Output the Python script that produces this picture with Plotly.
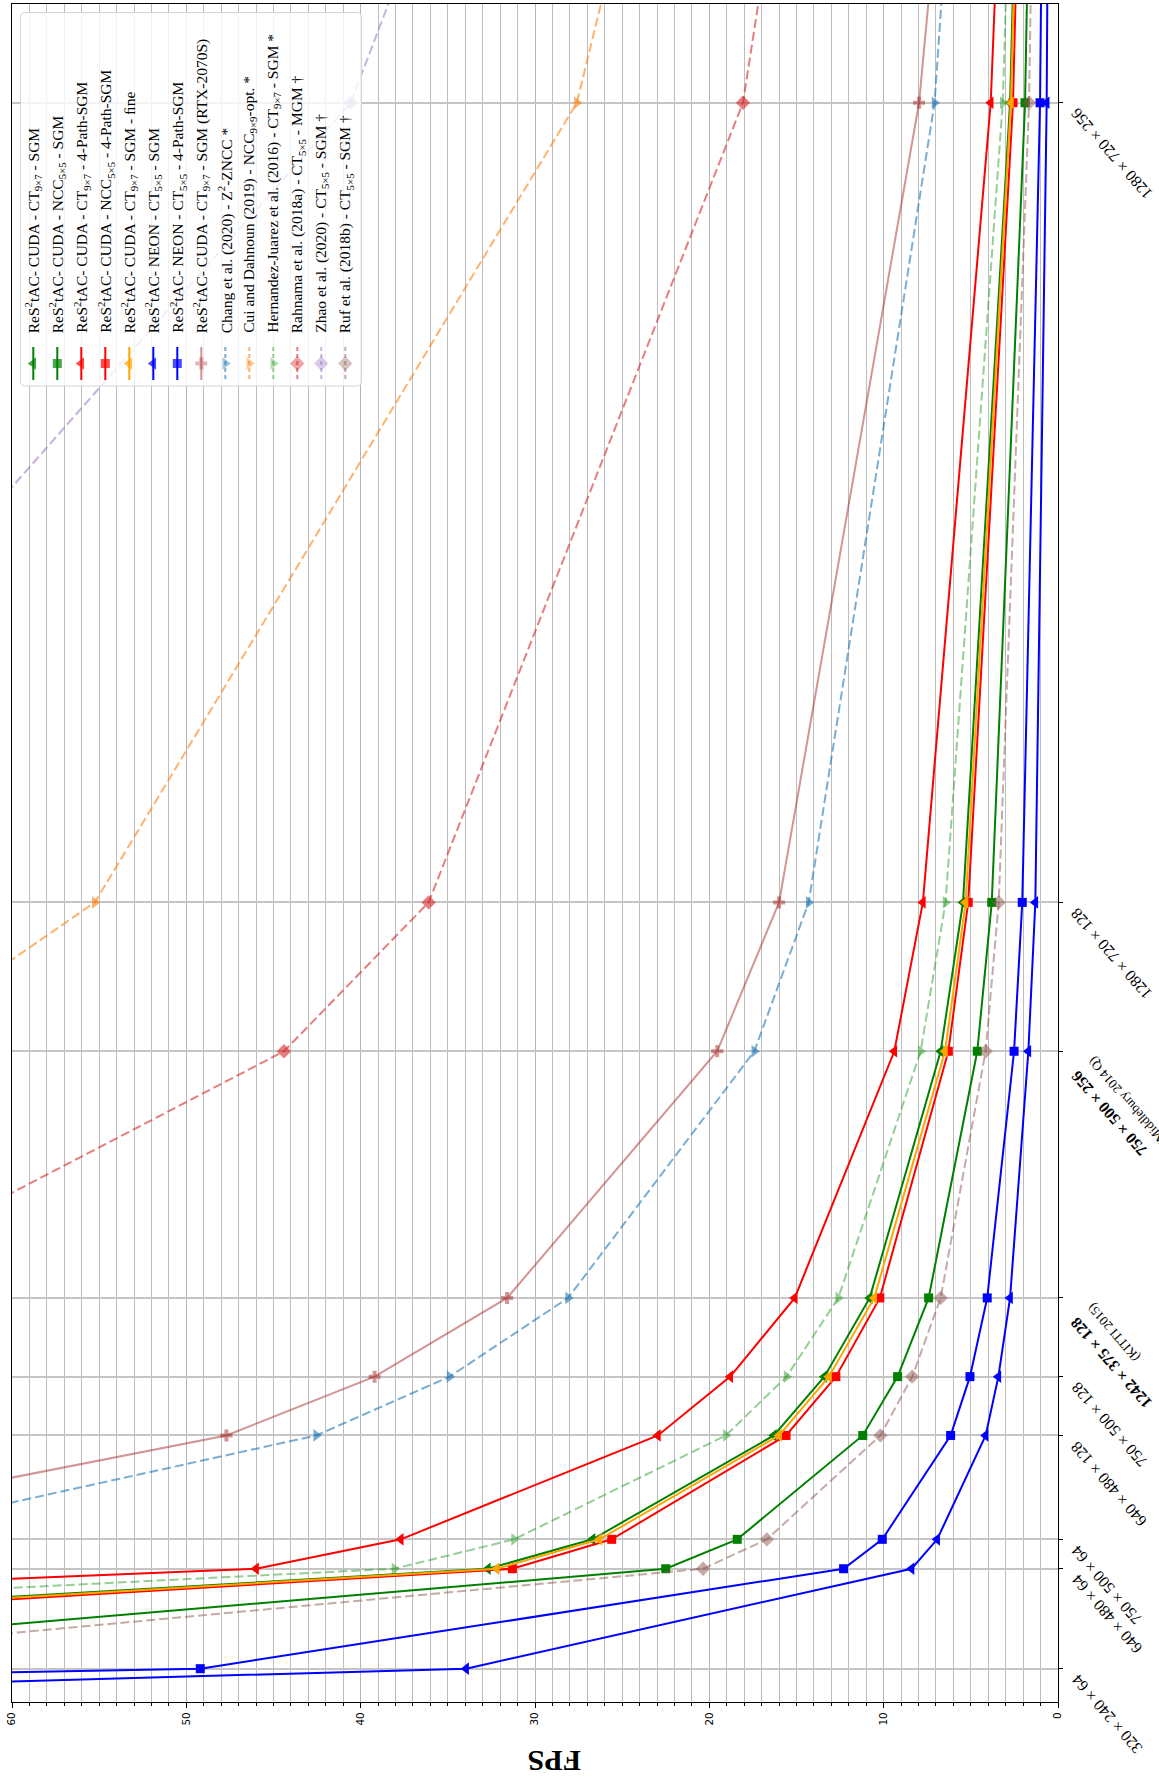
import numpy as np
import plotly.graph_objects as go

# ---------------------------------------------------------------------------
# Benchmark configurations: image width x height x disparity range
# (first and last entries lie just outside the plotted range)
RES_W = [320, 320, 640, 750, 640, 750, 1242, 750, 1280, 1280, 1920]
RES_H = [240, 240, 480, 500, 480, 500, 375, 500, 720, 720, 1080]
RES_D = [32, 64, 64, 64, 128, 128, 128, 256, 128, 256, 128]

# configurations that get a tick label
TICK_IDX = [1, 2, 3, 4, 5, 6, 7, 8, 9]
TICK_TEXT = [
    "320 × 240 × 64",
    "640 × 480 × 64",
    "750 × 500 × 64",
    "640 × 480 × 128",
    "750 × 500 × 128",
    "<b>1242 × 375 × 128</b><br><span style='font-size:13px'>(KITTI 2015)</span>",
    "<b>750 × 500 × 256</b><br><span style='font-size:13px'>(Middlebury 2014 Q)</span>",
    "1280 × 720 × 128",
    "1280 × 720 × 256",
]

N = None
# frames per second, one value per configuration in RES_*
FPS_CUDA_CT_SGM = [N, 130, 32.7, 26.7, 16.3, 13.4, 10.8, 6.73, 5.45, 2.75, 2.45]
FPS_CUDA_NCC_SGM = [N, 90, 22.5, 18.4, 11.2, 9.2, 7.42, 4.63, 3.8, 1.89, 1.68]
FPS_CUDA_CT_4P = [N, 184, 46.0, 37.7, 22.95, 18.8, 15.1, 9.39, 7.75, 3.86, 3.4]
FPS_CUDA_NCC_4P = [N, 125, 31.3, 25.6, 15.6, 12.74, 10.22, 6.29, 5.15, 2.58, 2.3]
FPS_CUDA_CT_FINE = [N, 128, 32.2, 26.3, 16.0, 13.14, 10.54, 6.48, 5.3, 2.7, 2.4]
FPS_NEON_CT_SGM = [68, 33.95, 8.4, 6.93, 4.15, 3.42, 2.75, 1.70, 1.3, 0.65, 0.58]
FPS_NEON_CT_4P = [100, 49.2, 12.3, 10.08, 6.16, 5.05, 4.06, 2.52, 2.05, 1.03, 0.92]
FPS_CUDA_RTX = [N, N, N, 78, 47.7, 39.2, 31.6, 19.55, 16.0, 7.97, 6.9]
FPS_CHANG = [N, N, N, 69.6, 42.55, 34.9, 28.1, 17.42, 14.3, 7.08, 6.3]
FPS_CUI = [N, N, N, N, N, N, N, 67.6, 55.25, 27.6, 24.8]
FPS_HERNANDEZ = [N, 153, 38.06, 31.2, 19.05, 15.57, 12.6, 7.88, 6.45, 3.17, 2.82]
FPS_RAHNAMA = [N, N, N, N, N, N, 71.6, 44.4, 36.1, 18.07, 16.3]
FPS_ZHAO = [N, N, N, N, N, N, N, N, 81, 40.57, 36.2]
FPS_RUF = [N, 82, 20.36, 16.7, 10.19, 8.36, 6.73, 4.15, 3.4, 1.66, 1.48]

LABELS = [
    "ReS<sup>2</sup>tAC- CUDA - CT<sub>9×7</sub> - SGM",
    "ReS<sup>2</sup>tAC- CUDA - NCC<sub>5×5</sub> - SGM",
    "ReS<sup>2</sup>tAC- CUDA - CT<sub>9×7</sub> - 4-Path-SGM",
    "ReS<sup>2</sup>tAC- CUDA - NCC<sub>5×5</sub> - 4-Path-SGM",
    "ReS<sup>2</sup>tAC- CUDA - CT<sub>9×7</sub> - SGM - ﬁne",
    "ReS<sup>2</sup>tAC- NEON - CT<sub>5×5</sub> - SGM",
    "ReS<sup>2</sup>tAC- NEON - CT<sub>5×5</sub> - 4-Path-SGM",
    "ReS<sup>2</sup>tAC- CUDA - CT<sub>9×7</sub> - SGM (RTX-2070S)",
    "Chang et al. (2020) - Z<sup>2</sup>-ZNCC *",
    "Cui and Dahnoun (2019) - NCC<sub>9×9</sub>-opt. *",
    "Hernandez-Juarez et al. (2016) - CT<sub>9×7</sub> - SGM *",
    "Rahnama et al. (2018a) - CT<sub>5×5</sub> - MGM †",
    "Zhao et al. (2020) - CT<sub>5×5</sub> - SGM †",
    "Ruf et al. (2018b) - CT<sub>5×5</sub> - SGM †",
]

SERIES = [FPS_CUDA_CT_SGM, FPS_CUDA_NCC_SGM, FPS_CUDA_CT_4P, FPS_CUDA_NCC_4P,
          FPS_CUDA_CT_FINE, FPS_NEON_CT_SGM, FPS_NEON_CT_4P, FPS_CUDA_RTX,
          FPS_CHANG, FPS_CUI, FPS_HERNANDEZ, FPS_RAHNAMA, FPS_ZHAO, FPS_RUF]

# (colour, dash, marker symbol, marker size)
STYLES = [
    ("rgb(0,128,0)", "solid", "triangle-left", 11),
    ("rgb(0,128,0)", "solid", "square", 9),
    ("rgb(255,0,0)", "solid", "triangle-left", 11),
    ("rgb(255,0,0)", "solid", "square", 9),
    ("rgb(255,165,0)", "solid", "triangle-left", 11),
    ("rgb(0,0,255)", "solid", "triangle-left", 11),
    ("rgb(0,0,255)", "solid", "square", 9),
    ("rgba(165,42,42,0.5)", "solid", "cross", 10),
    ("rgba(31,119,180,0.6)", "9px,4px", "triangle-right", 11),
    ("rgba(255,127,14,0.6)", "9px,4px", "triangle-right", 11),
    ("rgba(44,160,44,0.5)", "9px,4px", "triangle-right", 11),
    ("rgba(214,39,40,0.6)", "9px,4px", "diamond", 11),
    ("rgba(148,103,189,0.5)", "9px,4px", "diamond", 11),
    ("rgba(140,86,75,0.5)", "9px,4px", "diamond", 11),
]

# workload in million pixel-disparities
work = [w * h * d / 1e6 for w, h, d in zip(RES_W, RES_H, RES_D)]
tick_pos = [work[i] for i in TICK_IDX]

SERIF = "Liberation Serif, Times New Roman, serif"
W, H = 1159, 1782
ML, MR, MT, MB = 12, 101, 4, 80
PLOT_W = W - ML - MR
PLOT_H = H - MT - MB

fig = go.Figure()

for vals, (col, dash, sym, size) in zip(SERIES, STYLES):
    fig.add_trace(go.Scatter(
        x=vals, y=work, mode="lines+markers",
        line=dict(color=col, width=2, dash=dash),
        marker=dict(symbol=sym, size=size, color=col, line=dict(width=0)),
        connectgaps=False, showlegend=False, hoverinfo="skip",
    ))

# ---- hand-built vertical legend on a pixel-space overlay ----
box_x0, box_x1, box_y0, box_y1, rad = 20.5, 361.5, 12.5, 386.0, 4.0
corners = [(box_x1 - rad, box_y0 + rad, -90, 0), (box_x1 - rad, box_y1 - rad, 0, 90),
           (box_x0 + rad, box_y1 - rad, 90, 180), (box_x0 + rad, box_y0 + rad, 180, 270)]
bx, by = [], []
for cx, cy, a0, a1 in corners:
    t = np.radians(np.linspace(a0, a1, 6))
    bx += list(cx + rad * np.cos(t))
    by += list(cy + rad * np.sin(t))
bx.append(bx[0]); by.append(by[0])
fig.add_trace(go.Scatter(
    x=bx, y=by, xaxis="x2", yaxis="y2", mode="lines", fill="toself",
    fillcolor="rgba(255,255,255,0.8)", line=dict(color="#d4d4d4", width=1),
    showlegend=False, hoverinfo="skip",
))

col0, col_step = 33.3, 24.0
for k, (col, dash, sym, size) in enumerate(STYLES):
    cx = col0 + col_step * k
    fig.add_trace(go.Scatter(
        x=[cx, cx, cx], y=[347, 363.5, 380], xaxis="x2", yaxis="y2",
        mode="lines+markers",
        line=dict(color=col, width=2, dash="4px,3px" if dash != "solid" else "solid"),
        marker=dict(symbol=sym, size=[0, size, 0], color=col, line=dict(width=0)),
        showlegend=False, hoverinfo="skip",
    ))
    fig.add_annotation(
        x=cx, y=335, xref="x2", yref="y2", text=LABELS[k], showarrow=False,
        textangle=-90, xanchor="center", yanchor="bottom",
        font=dict(family=SERIF, size=15.5, color="black"),
    )

# ---- rotated configuration labels on the right-hand axis ----
for pos, txt in zip(tick_pos, TICK_TEXT):
    fig.add_annotation(
        x=1 + 7 / PLOT_W, y=pos, xref="paper", yref="y", text=txt,
        showarrow=False, textangle=-131, xanchor="left", yanchor="top",
        align="right", font=dict(family=SERIF, size=16, color="black"),
    )

# axis title
fig.add_annotation(
    x=(555 - ML) / PLOT_W, y=-(1762 - (H - MB)) / PLOT_H, xref="paper", yref="paper",
    text="<b>FPS</b>", showarrow=False, textangle=180,
    xanchor="center", yanchor="middle",
    font=dict(family=SERIF, size=30, color="black"),
)

fig.update_layout(
    width=W, height=H,
    margin=dict(l=ML, r=MR, t=MT, b=MB, autoexpand=False),
    paper_bgcolor="white", plot_bgcolor="white",
    xaxis=dict(
        range=[60, 0], dtick=10, tick0=0, side="bottom",
        showgrid=True, gridcolor="#b4b4b4", gridwidth=1,
        ticks="outside", ticklen=5, tickcolor="black", tickwidth=1,
        tickangle=-90, tickfont=dict(family="DejaVu Sans", size=10.5, color="black"),
        minor=dict(dtick=1, showgrid=True, gridcolor="#bdbdbd", gridwidth=1,
                   ticks="outside", ticklen=3, tickcolor="black"),
        showline=True, linecolor="black", linewidth=1, mirror=True,
        zeroline=False, automargin=False,
    ),
    yaxis=dict(
        range=[0, 250.5], side="right", tickmode="array", tickvals=tick_pos,
        showticklabels=False, ticks="outside", ticklen=4, tickcolor="black",
        showgrid=True, gridcolor="#c4c4c4", gridwidth=1.5,
        showline=True, linecolor="black", linewidth=1, mirror=True,
        zeroline=False, automargin=False,
    ),
    xaxis2=dict(overlaying="x", anchor="y2", range=[ML, W - MR], visible=False,
                fixedrange=True),
    yaxis2=dict(overlaying="y", anchor="x2", range=[H - MB, MT], visible=False,
                fixedrange=True),
)

fig.write_html("out.html")
